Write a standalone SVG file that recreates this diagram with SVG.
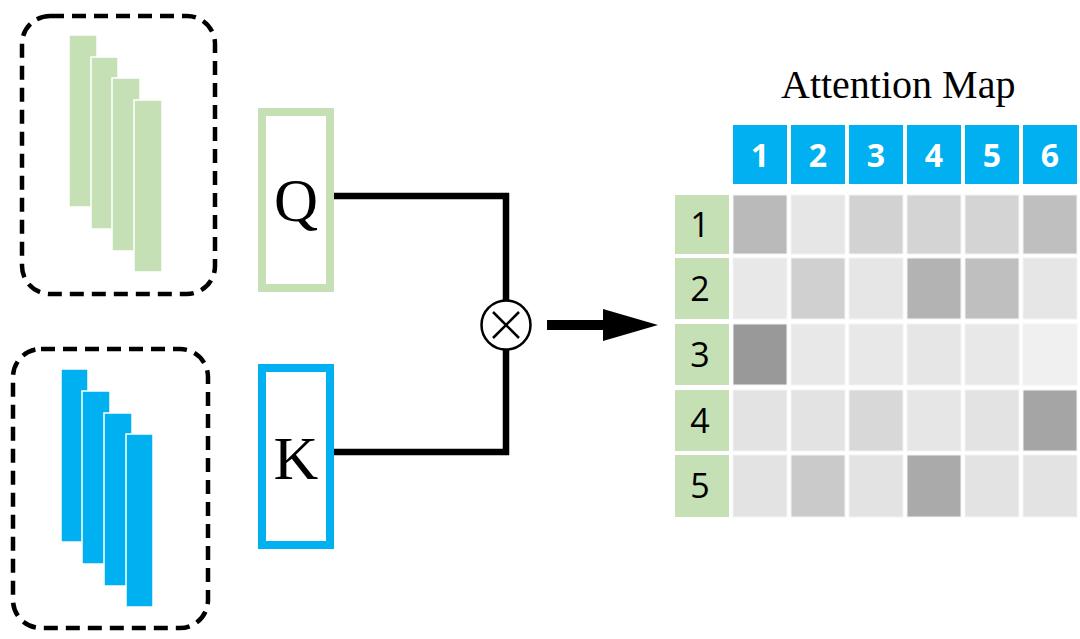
<svg xmlns="http://www.w3.org/2000/svg" width="1080" height="639" viewBox="0 0 1080 639">
<defs>
<style>
.dash{fill:none;stroke:#000;stroke-width:4.5;stroke-dasharray:14 8}
.gbar{fill:#C5E0B4;stroke:#fff;stroke-width:1.5}
.bbar{fill:#00B0F0;stroke:#fff;stroke-width:1.5}
.serif{font-family:"Liberation Serif","Times New Roman",serif;fill:#000}
.wire{fill:none;stroke:#000;stroke-width:6.5}
.hdr{fill:#00B0F0}
.hdrt{font-family:"Open Sans","Liberation Sans",sans-serif;font-weight:700;font-size:32px;fill:#fff;text-anchor:middle}
.rowl{fill:#C5E0B4}
.rowt{font-family:"Open Sans","Liberation Sans",sans-serif;font-size:34px;fill:#000;text-anchor:middle}
.c{stroke:#f4f4f4;stroke-width:1}
</style>
</defs>
<rect width="1080" height="639" fill="#fff"/>

<g id="q-features">
<rect class="dash" x="22" y="16" width="193" height="278" rx="28"/>
<rect class="gbar" x="69" y="35" width="28" height="172"/>
<rect class="gbar" x="91" y="57" width="27" height="172"/>
<rect class="gbar" x="112" y="78" width="28" height="173"/>
<rect class="gbar" x="134" y="100" width="28" height="172"/>
</g>

<g id="k-features">
<rect class="dash" x="13" y="349" width="195" height="279" rx="28"/>
<rect class="bbar" x="61" y="369" width="27" height="173"/>
<rect class="bbar" x="82" y="391" width="28" height="173"/>
<rect class="bbar" x="104" y="413" width="28" height="173"/>
<rect class="bbar" x="126" y="434" width="27" height="173"/>
</g>

<g id="q-box">
<rect x="262" y="112" width="68" height="176" fill="#fff" stroke="#C5E0B4" stroke-width="8"/>
<text class="serif" x="296" y="221" font-size="61" text-anchor="middle">Q</text>
</g>

<g id="k-box">
<rect x="262" y="368" width="68" height="177" fill="#fff" stroke="#00B0F0" stroke-width="8"/>
<text class="serif" x="296" y="479" font-size="62" text-anchor="middle">K</text>
</g>

<g id="connectors">
<polyline class="wire" points="334,196 506,196 506,300"/>
<polyline class="wire" points="334,452 506,452 506,350"/>
<polygon points="547,320 603,320 603,309 658,325 603,341 603,330 547,330" fill="#000"/>
</g>

<g id="multiply">
<circle cx="506" cy="325" r="24.5" fill="#fff" stroke="#000" stroke-width="2.5"/>
<line x1="493" y1="312" x2="519" y2="338" stroke="#000" stroke-width="2.5"/>
<line x1="519" y1="312" x2="493" y2="338" stroke="#000" stroke-width="2.5"/>
</g>

<g id="attention-map">
<text class="serif" x="781" y="98" font-size="40">Attention Map</text>
<g id="header">
<rect class="hdr" x="733" y="125" width="54" height="59"/>
<rect class="hdr" x="791" y="125" width="54" height="59"/>
<rect class="hdr" x="849" y="125" width="54" height="59"/>
<rect class="hdr" x="907" y="125" width="54" height="59"/>
<rect class="hdr" x="965" y="125" width="54" height="59"/>
<rect class="hdr" x="1023" y="125" width="54" height="59"/>
<text class="hdrt" x="760" y="167">1</text>
<text class="hdrt" x="818" y="167">2</text>
<text class="hdrt" x="876" y="167">3</text>
<text class="hdrt" x="934" y="167">4</text>
<text class="hdrt" x="992" y="167">5</text>
<text class="hdrt" x="1050" y="167">6</text>
</g>
<g id="rows">
<rect class="rowl" x="675" y="195" width="54" height="59"/>
<rect class="rowl" x="675" y="258" width="54" height="61"/>
<rect class="rowl" x="675" y="324" width="54" height="61"/>
<rect class="rowl" x="675" y="390" width="54" height="61"/>
<rect class="rowl" x="675" y="455" width="54" height="62"/>
<text class="rowt" x="700" y="237">1</text>
<text class="rowt" x="700" y="301">2</text>
<text class="rowt" x="700" y="367">3</text>
<text class="rowt" x="700" y="433">4</text>
<text class="rowt" x="700" y="498">5</text>
</g>
<g id="cells">
<rect class="c" x="733" y="195" width="54" height="59" fill="#BABABA"/>
<rect class="c" x="791" y="195" width="54" height="59" fill="#E6E6E6"/>
<rect class="c" x="849" y="195" width="54" height="59" fill="#D2D2D2"/>
<rect class="c" x="907" y="195" width="54" height="59" fill="#D4D4D4"/>
<rect class="c" x="965" y="195" width="54" height="59" fill="#D4D4D4"/>
<rect class="c" x="1023" y="195" width="54" height="59" fill="#BFBFBF"/>

<rect class="c" x="733" y="258" width="54" height="61" fill="#E8E8E8"/>
<rect class="c" x="791" y="258" width="54" height="61" fill="#D0D0D0"/>
<rect class="c" x="849" y="258" width="54" height="61" fill="#E6E6E6"/>
<rect class="c" x="907" y="258" width="54" height="61" fill="#B3B3B3"/>
<rect class="c" x="965" y="258" width="54" height="61" fill="#BFBFBF"/>
<rect class="c" x="1023" y="258" width="54" height="61" fill="#E6E6E6"/>

<rect class="c" x="733" y="324" width="54" height="61" fill="#999999"/>
<rect class="c" x="791" y="324" width="54" height="61" fill="#E8E8E8"/>
<rect class="c" x="849" y="324" width="54" height="61" fill="#E8E8E8"/>
<rect class="c" x="907" y="324" width="54" height="61" fill="#E6E6E6"/>
<rect class="c" x="965" y="324" width="54" height="61" fill="#E8E8E8"/>
<rect class="c" x="1023" y="324" width="54" height="61" fill="#F0F0F0"/>

<rect class="c" x="733" y="390" width="54" height="61" fill="#E3E3E3"/>
<rect class="c" x="791" y="390" width="54" height="61" fill="#E3E3E3"/>
<rect class="c" x="849" y="390" width="54" height="61" fill="#D8D8D8"/>
<rect class="c" x="907" y="390" width="54" height="61" fill="#E6E6E6"/>
<rect class="c" x="965" y="390" width="54" height="61" fill="#E3E3E3"/>
<rect class="c" x="1023" y="390" width="54" height="61" fill="#A5A5A5"/>

<rect class="c" x="733" y="455" width="54" height="62" fill="#E3E3E3"/>
<rect class="c" x="791" y="455" width="54" height="62" fill="#CACACA"/>
<rect class="c" x="849" y="455" width="54" height="62" fill="#E3E3E3"/>
<rect class="c" x="907" y="455" width="54" height="62" fill="#AAAAAA"/>
<rect class="c" x="965" y="455" width="54" height="62" fill="#E3E3E3"/>
<rect class="c" x="1023" y="455" width="54" height="62" fill="#E3E3E3"/>
</g>
</g>
</svg>
